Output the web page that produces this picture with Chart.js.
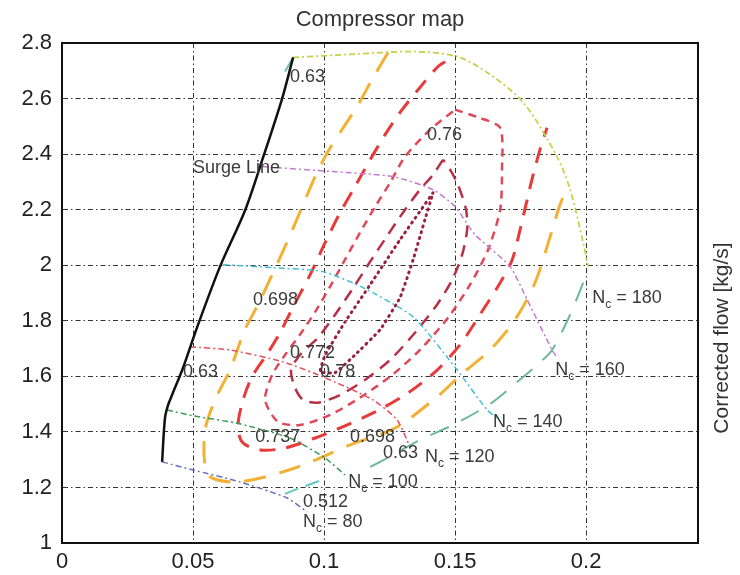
<!DOCTYPE html>
<html>
<head>
<meta charset="utf-8">
<script src="https://cdn.jsdelivr.net/npm/chart.js@4.4.1/dist/chart.umd.min.js"></script>
<style>
  body { margin: 0; background: #fff; }
  #wrap { width: 740px; height: 575px; position: relative; }
</style>
</head>
<body>
<div id="wrap"><canvas id="chart"></canvas></div>
<script>
// tick labels
const xTicks = [0, 0.05, 0.1, 0.15, 0.2];
const yTicks = [1, 1.2, 1.4, 1.6, 1.8, 2, 2.2, 2.4, 2.6, 2.8];

// surge line
const surgeX = [0.0382, 0.0393, 0.0405, 0.0420, 0.0462, 0.0515, 0.0603, 0.0698, 0.0767, 0.0840, 0.0882];
const surgeY = [1.292, 1.450, 1.497, 1.533, 1.631, 1.775, 1.995, 2.196, 2.387, 2.600, 2.748];

// speed lines (Nc)
const nc80X = [0.0382, 0.0500, 0.0679, 0.0859, 0.0935];
const nc80Y = [1.292, 1.263, 1.220, 1.162, 1.112];
const nc100X = [0.0401, 0.0500, 0.0679, 0.0870, 0.1004, 0.1080];
const nc100Y = [1.479, 1.458, 1.429, 1.378, 1.306, 1.245];
const nc120X = [0.0489, 0.0641, 0.0844, 0.0996, 0.1187, 0.1279, 0.1328];
const nc120Y = [1.706, 1.695, 1.652, 1.598, 1.515, 1.443, 1.346];
const nc140X = [0.0614, 0.0805, 0.0996, 0.1149, 0.1340, 0.1508, 0.1622, 0.1660];
const nc140Y = [2.002, 1.991, 1.977, 1.919, 1.814, 1.623, 1.479, 1.450];
const nc160X = [0.0763, 0.1034, 0.1263, 0.1416, 0.1500, 0.1576, 0.1710, 0.1775, 0.1870, 0.1885];
const nc160Y = [2.355, 2.337, 2.319, 2.272, 2.211, 2.110, 1.995, 1.876, 1.695, 1.674];
const nc180X = [0.0882, 0.1099, 0.1340, 0.1508, 0.1622, 0.1760, 0.1889, 0.1939, 0.1989, 0.2008];
const nc180Y = [2.748, 2.759, 2.769, 2.751, 2.694, 2.586, 2.391, 2.272, 2.081, 1.995];

// efficiency contours
const eff512X = [0.0851, 0.0908, 0.0992];
const eff512Y = [1.177, 1.198, 1.227];
const eff63X = [0.1989, 0.1939, 0.1870, 0.1813, 0.1737, 0.1634, 0.1492, 0.1366, 0.1214, 0.1137];
const eff63Y = [1.937, 1.822, 1.695, 1.641, 1.580, 1.501, 1.425, 1.371, 1.292, 1.256];
const eff63TopX = [0.0851, 0.0882];
const eff63TopY = [2.697, 2.748];
const eff698X = [0.1244, 0.1183, 0.1130, 0.1073, 0.1015, 0.0966, 0.0920, 0.0863, 0.0802, 0.0748, 0.0698, 0.0641, 0.0584, 0.0546, 0.0546, 0.0573, 0.0679, 0.0889, 0.1099, 0.1271, 0.1431, 0.1531, 0.1634, 0.1729, 0.1805, 0.1863, 0.1908, 0.1939];
const eff698Y = [2.766, 2.668, 2.578, 2.495, 2.409, 2.319, 2.218, 2.092, 1.966, 1.858, 1.768, 1.623, 1.515, 1.407, 1.274, 1.234, 1.220, 1.270, 1.353, 1.414, 1.526, 1.613, 1.695, 1.804, 1.937, 2.103, 2.236, 2.272];
const eff737X = [0.1462, 0.1431, 0.1366, 0.1290, 0.1233, 0.1176, 0.1118, 0.1061, 0.1004, 0.0947, 0.0882, 0.0832, 0.0786, 0.0725, 0.0691, 0.0672, 0.0687, 0.0756, 0.0851, 0.0966, 0.1080, 0.1195, 0.1309, 0.1424, 0.1519, 0.1595, 0.1672, 0.1718, 0.1748, 0.1775, 0.1798, 0.1824, 0.1851];
const eff737Y = [2.733, 2.712, 2.640, 2.550, 2.470, 2.380, 2.283, 2.189, 2.081, 1.966, 1.850, 1.757, 1.685, 1.598, 1.515, 1.425, 1.364, 1.335, 1.342, 1.378, 1.422, 1.472, 1.533, 1.616, 1.714, 1.822, 1.937, 2.020, 2.128, 2.236, 2.326, 2.416, 2.495];
const eff76X = [0.1500, 0.1588, 0.1672, 0.1679, 0.1672, 0.1626, 0.1557, 0.1473, 0.1366, 0.1260, 0.1137, 0.1023, 0.0908, 0.0824, 0.0775, 0.0802, 0.0851, 0.0908, 0.0966, 0.1023, 0.1080, 0.1137, 0.1195, 0.1252, 0.1309, 0.1405, 0.1500];
const eff76Y = [2.560, 2.532, 2.495, 2.344, 2.200, 2.056, 1.930, 1.811, 1.695, 1.605, 1.523, 1.461, 1.425, 1.436, 1.515, 1.605, 1.677, 1.750, 1.832, 1.923, 2.020, 2.117, 2.211, 2.297, 2.391, 2.488, 2.560];
const eff772X = [0.1454, 0.1416, 0.1366, 0.1309, 0.1244, 0.1176, 0.1107, 0.1042, 0.0977, 0.0908, 0.0874, 0.0889, 0.0920, 0.0977, 0.1061, 0.1156, 0.1252, 0.1347, 0.1431, 0.1489, 0.1527, 0.1546, 0.1542, 0.1511, 0.1481, 0.1454];
const eff772Y = [2.380, 2.326, 2.272, 2.200, 2.110, 2.013, 1.912, 1.822, 1.739, 1.677, 1.623, 1.559, 1.515, 1.505, 1.533, 1.587, 1.659, 1.757, 1.858, 1.948, 2.038, 2.128, 2.200, 2.290, 2.344, 2.380];
const eff78X = [0.1416, 0.1290, 0.1176, 0.1080, 0.1004, 0.0985, 0.1042, 0.1118, 0.1214, 0.1290, 0.1340, 0.1385, 0.1416];
const eff78Y = [2.261, 2.092, 1.930, 1.796, 1.677, 1.616, 1.613, 1.677, 1.768, 1.883, 2.020, 2.164, 2.261];

// text annotations
const noteText = ['Surge Line', '0.63', '0.76', '0.698', '0.772', '0.78', '0.63', '0.737', '0.698', '0.63', '0.512'];
const noteX = [0.0500, 0.0870, 0.1393, 0.0729, 0.0870, 0.0985, 0.0462, 0.0737, 0.1099, 0.1225, 0.0920];
const noteY = [2.351, 2.676, 2.470, 1.876, 1.685, 1.616, 1.616, 1.382, 1.382, 1.324, 1.148];
const speedText = ['80', '100', '120', '140', '160', '180'];
const speedX = [0.0920, 0.1092, 0.1385, 0.1645, 0.1882, 0.2023];
const speedY = [1.076, 1.220, 1.310, 1.436, 1.623, 1.883];

const zip = (xs, ys) => xs.map((x, i) => ({ x: x, y: ys[i] }));

function line(xs, ys, color, width, dash, tension, cap) {
  return {
    data: zip(xs, ys),
    borderColor: color,
    borderWidth: width,
    borderDash: dash,
    borderCapStyle: cap || 'butt',
    showLine: true,
    pointRadius: 0,
    fill: false,
    tension: tension
  };
}

const dashDot = [6, 3, 2, 3];

const datasets = [
  line(surgeX, surgeY, '#111111', 2.5, [], 0.3),
  line(nc80X, nc80Y, '#6a70c4', 1.5, dashDot, 0.2),
  line(nc100X, nc100Y, '#3a9a5a', 1.5, dashDot, 0.2),
  line(nc120X, nc120Y, '#e8505e', 1.5, dashDot, 0.2),
  line(nc140X, nc140Y, '#40c0d2', 1.5, dashDot, 0.2),
  line(nc160X, nc160Y, '#c47ad0', 1.5, dashDot, 0.2),
  line(nc180X, nc180Y, '#c8d048', 1.8, dashDot, 0.3),
  line(eff78X, eff78Y, '#982040', 3, [1, 5], 0.1, 'round'),
  line(eff772X, eff772Y, '#b83048', 2.5, [12, 8], 0.25),
  line(eff76X, eff76Y, '#e04858', 2.5, [8, 6], 0.25),
  line(eff737X, eff737Y, '#e83a3a', 3, [16, 11], 0.3),
  line(eff698X, eff698Y, '#f2b134', 3, [22, 14], 0.3),
  line(eff63X, eff63Y, '#6cb89a', 2, [20, 14], 0.3),
  line(eff63TopX, eff63TopY, '#6cc0b0', 2, [], 0),
  line(eff512X, eff512Y, '#60c8c0', 2, [14, 8], 0.2)
];

const tickFont = { family: "'Liberation Sans', Arial, sans-serif", size: 22 };

const overlay = {
  id: 'overlay',
  afterDatasetsDraw(chart) {
    const { ctx, scales: { x, y } } = chart;
    ctx.save();
    ctx.fillStyle = '#3a3a3a';
    ctx.textBaseline = 'middle';
    ctx.textAlign = 'left';
    ctx.font = "18px 'Liberation Sans', Arial, sans-serif";
    noteText.forEach((t, i) => {
      ctx.fillText(t, x.getPixelForValue(noteX[i]), y.getPixelForValue(noteY[i]));
    });
    speedText.forEach((t, i) => {
      let px = x.getPixelForValue(speedX[i]);
      const py = y.getPixelForValue(speedY[i]);
      ctx.font = "18px 'Liberation Sans', Arial, sans-serif";
      ctx.fillText('N', px, py);
      px += ctx.measureText('N').width;
      ctx.font = "12px 'Liberation Sans', Arial, sans-serif";
      ctx.fillText('c', px, py + 7);
      px += ctx.measureText('c').width;
      ctx.font = "18px 'Liberation Sans', Arial, sans-serif";
      ctx.fillText(' = ' + t, px, py);
    });
    ctx.restore();
  },
  afterDraw(chart) {
    const { ctx, chartArea: a } = chart;
    ctx.save();
    ctx.strokeStyle = '#111';
    ctx.lineWidth = 2;
    ctx.strokeRect(a.left, a.top, a.right - a.left, a.bottom - a.top);
    ctx.fillStyle = '#333';
    ctx.textAlign = 'center';
    ctx.textBaseline = 'middle';
    ctx.font = "22px 'Liberation Sans', Arial, sans-serif";
    ctx.fillText('Compressor map', 380, 20);
    ctx.translate(722, (a.top + a.bottom) / 2 + 45);
    ctx.rotate(-Math.PI / 2);
    ctx.font = "21px 'Liberation Sans', Arial, sans-serif";
    ctx.fillText('Corrected flow [kg/s]', 0, 0);
    ctx.restore();
  }
};

new Chart(document.getElementById('chart'), {
  type: 'scatter',
  data: { datasets: datasets },
  options: {
    responsive: true,
    maintainAspectRatio: false,
    animation: false,
    layout: { padding: { top: 43, right: 42, left: 0, bottom: 0 } },
    plugins: { legend: { display: false }, tooltip: { enabled: false } },
    scales: {
      x: {
        type: 'linear',
        min: 0,
        max: 0.2427,
        afterBuildTicks: s => { s.ticks = xTicks.map(v => ({ value: v })); },
        afterFit: s => { s.height = 32; },
        ticks: {
          callback: v => String(parseFloat(v.toFixed(2))),
          font: tickFont, color: '#222', padding: 6, maxRotation: 0, autoSkip: false
        },
        grid: { color: '#333', lineWidth: 1, drawTicks: false },
        border: { display: true, color: '#111', width: 2, dash: [5, 3, 1.5, 3] }
      },
      y: {
        type: 'linear',
        min: 1,
        max: 2.8,
        afterBuildTicks: s => { s.ticks = yTicks.map(v => ({ value: v })); },
        afterFit: s => { s.width = 62; },
        ticks: {
          callback: v => String(parseFloat(v.toFixed(1))),
          font: tickFont, color: '#222', padding: 10, autoSkip: false
        },
        grid: { color: '#333', lineWidth: 1, drawTicks: false },
        border: { display: true, color: '#111', width: 2, dash: [5, 3, 1.5, 3] }
      }
    }
  },
  plugins: [overlay]
});
</script>
</body>
</html>
